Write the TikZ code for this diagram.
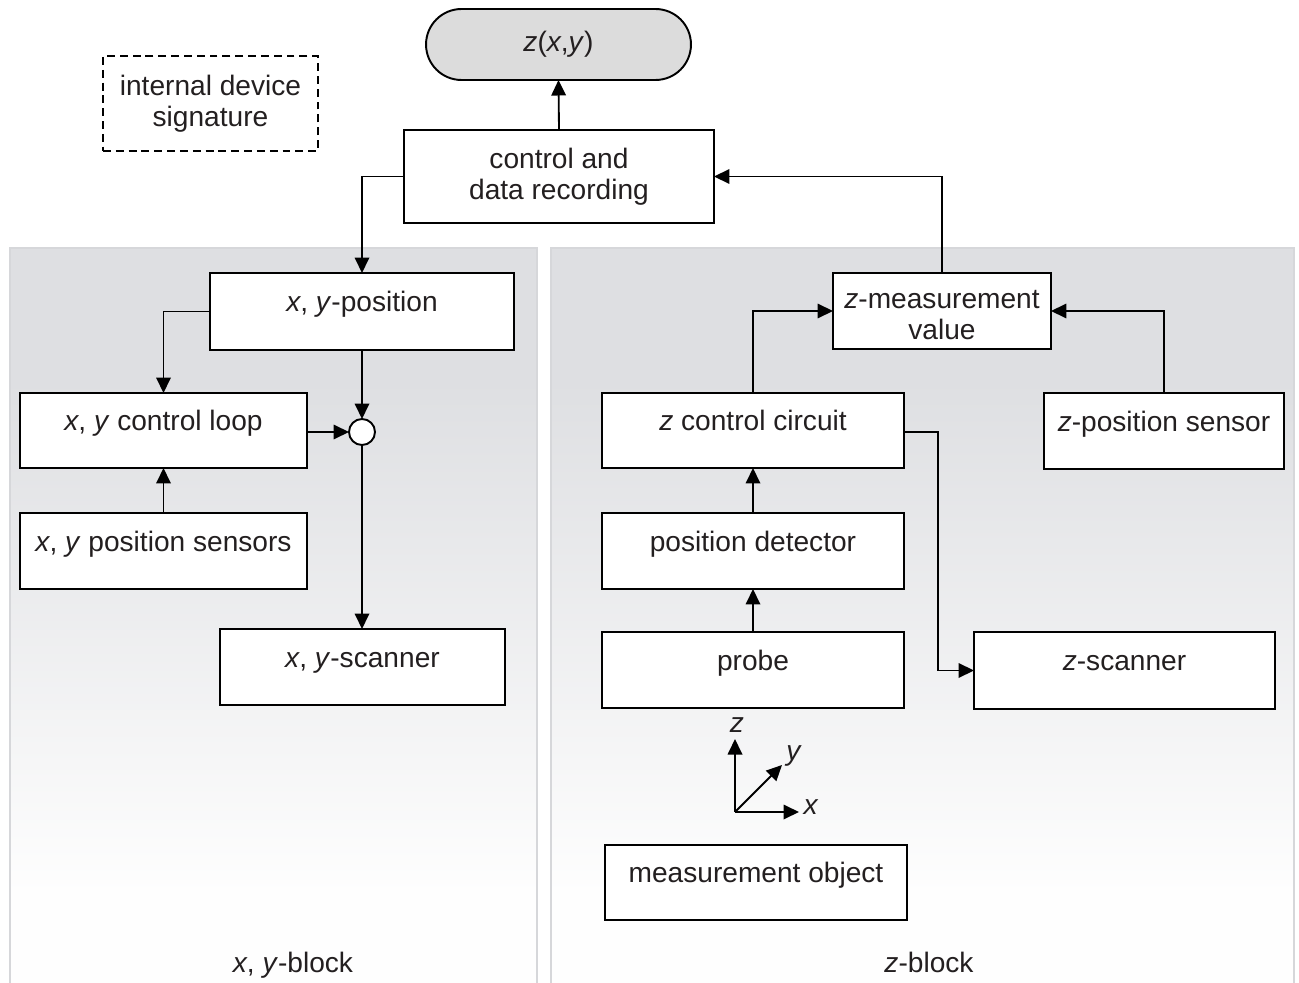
\documentclass[tikz,border=0pt]{standalone}
\usepackage{fontspec}
\setmainfont{Liberation Sans}
\usetikzlibrary{arrows.meta,shapes.misc,calc}
\definecolor{panelgray}{HTML}{DEDFE2}
\definecolor{pillgray}{HTML}{DCDCDC}
\definecolor{ink}{HTML}{231F20}
\definecolor{paneledge}{HTML}{D6D7DA}
\begin{document}
\begin{tikzpicture}[x=0.02cm,y=-0.02cm,
  font=\fontsize{16}{17.6}\selectfont, text=ink,
  box/.style={draw=black, line width=1.1pt, fill=white, inner sep=0pt, outer sep=0pt},
  oneline/.style={text height=10pt, text depth=10pt},
  dashbox/.style={draw=black, line width=1.1pt, dash pattern=on 4.5pt off 2.8pt, inner sep=0pt, align=center},
  conn/.style={line width=1.05pt, draw=black, -{Triangle[length=0.31cm,width=0.29cm]}},
  plain/.style={inner sep=0pt}]
\useasboundingbox (0,0) rectangle (1299,983);

% panels
\fill[panelgray] (10,248) rectangle (537,380);
\shade[top color=panelgray, bottom color=white!98!panelgray] (10,380) rectangle (537,900);
\fill[white!98!panelgray] (10,900) rectangle (537,983);
\fill[panelgray] (551,248) rectangle (1294,380);
\shade[top color=panelgray, bottom color=white!98!panelgray] (551,380) rectangle (1294,900);
\fill[white!98!panelgray] (551,900) rectangle (1294,983);
\draw[paneledge, line width=0.6pt] (10,983) |- (537,248) -- (537,983);
\draw[paneledge, line width=0.6pt] (551,983) |- (1294,248) -- (1294,983);

% nodes
\node[box, shape=rounded rectangle, fill=pillgray, minimum width=5.3cm, minimum height=1.42cm] (pill) at (558.5,44.5) {\textit{z}(\textit{x},\textit{y})};
\node[dashbox, minimum width=4.3cm, minimum height=1.9cm] (sig) at (210.5,103.5) {internal device\\signature};
\node[box, align=center, minimum width=6.2cm, minimum height=1.86cm] (ctl) at (559,176.5) {control and\\data recording};

\node[box, oneline, minimum width=6.08cm, minimum height=1.54cm] (xyp) at (362,311.5) {\textit{x}, \textit{y}-position};
\node[box, oneline, minimum width=5.74cm, minimum height=1.5cm] (xyl) at (163.5,430.5) {\textit{x}, \textit{y} control loop};
\node[box, oneline, minimum width=5.74cm, minimum height=1.52cm] (xys) at (163.5,551) {\textit{x}, \textit{y} position sensors};
\node[box, oneline, minimum width=5.7cm, minimum height=1.52cm] (xysc) at (362.5,667) {\textit{x}, \textit{y}-scanner};
\node[box, circle, minimum size=0.52cm] (circ) at (362,432) {};

\node[box, minimum width=4.36cm, minimum height=1.52cm] (zmv) at (942,311) {};
\node[plain, align=center] (zmvt) at (942,315) {\textit{z}-measurement\\value};
\node[box, oneline, minimum width=6.04cm, minimum height=1.5cm] (zcc) at (753,430.5) {\textit{z} control circuit};
\node[box, oneline, minimum width=4.8cm, minimum height=1.52cm] (zps) at (1164,431) {\textit{z}-position sensor};
\node[box, oneline, minimum width=6.04cm, minimum height=1.52cm] (pd) at (753,551) {position detector};
\node[box, oneline, minimum width=6.04cm, minimum height=1.52cm] (probe) at (753,670) {probe};
\node[box, oneline, minimum width=6.02cm, minimum height=1.54cm] (zsc) at (1124.5,670.5) {\textit{z}-scanner};
\node[box, oneline, minimum width=6.04cm, minimum height=1.5cm] (mo) at (756,882.5) {measurement object};

% block labels
\node[plain, anchor=base] (lblxy) at (293,972) {\textit{x}, \textit{y}-block};
\node[plain, anchor=base] (lblz) at (929,972) {\textit{z}-block};

% connectors
\draw[conn] (ctl.north) -- (pill.south);
\draw[conn] (ctl.west) -| (xyp.north);
\draw[conn] (zmv.north) |- (ctl.east);
\draw[conn] (xyp.west) -| (xyl.north);
\draw[conn] (xys.north) -- (xyl.south);
\draw[conn] (xyp.south -| circ.north) -- (circ.north);
\draw[conn] (xyl.east |- circ.west) -- (circ.west);
\draw[conn] (circ.south) -- (circ.south |- xysc.north);
\draw[conn] (zcc.north) |- (zmv.west);
\draw[conn] (zps.north) |- (zmv.east);
\draw[conn] (pd.north) -- (pd.north |- zcc.south);
\draw[conn] (probe.north) -- (probe.north |- pd.south);
\coordinate (bend) at (938,432);
\draw[conn] (zcc.east |- bend) -- (bend) |- (zsc.west);

% axes
\coordinate (O) at (735,812);
\coordinate (zt) at (735,739);
\coordinate (xt) at (799,812);
\coordinate (yt) at (782,765);
\draw[conn] (O) -- (zt);
\draw[conn] (O) -- (xt);
\draw[conn] (O) -- (yt);
\node[plain] (zl) at (737,725) {\textit{z}};
\node[plain] (yl) at (794,756) {\textit{y}};
\node[plain] (xl) at (811,807) {\textit{x}};
\end{tikzpicture}
\end{document}
